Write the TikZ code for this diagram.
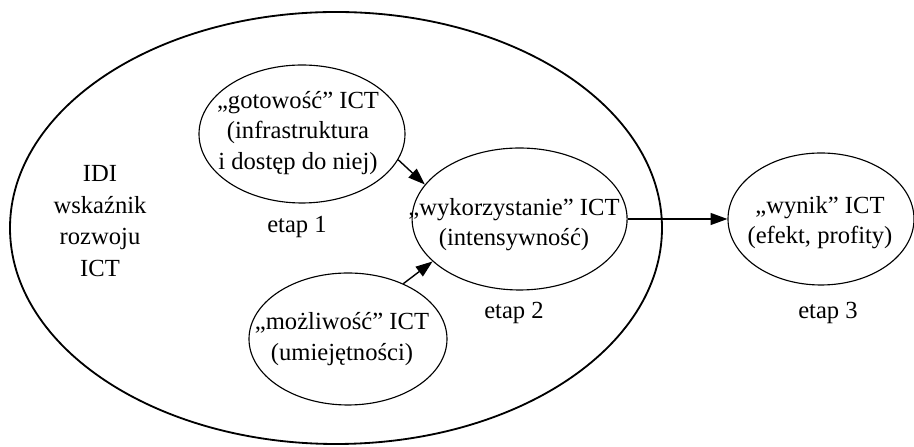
\documentclass[tikz,border=0pt]{standalone}
\usepackage{fontspec}
\setmainfont{Liberation Serif}
\usepackage{tikz}
\usetikzlibrary{arrows.meta,shapes.geometric,positioning}

\begin{document}
\begin{tikzpicture}[
    stage/.style={draw,ellipse,inner sep=0pt,line width=0.8pt},
    txt/.style={align=center,font=\fontsize{17.5}{21.5}\selectfont},
    flow/.style={-{Triangle[length=12pt,width=8.5pt]},line width=1pt}]
  \useasboundingbox (0,0) rectangle (22.85,11.175);
  \node[draw,ellipse,inner sep=0pt,line width=1.3pt,minimum width=16.3cm,minimum height=10.8cm] (idi) at (8.4,5.475) {};
  \node[stage,minimum width=5.15cm,minimum height=3.45cm] (ready) at (7.55,7.825) {};
  \node[stage,minimum width=5.375cm,minimum height=3.55cm] (use) at (12.99,5.7) {};
  \node[stage,minimum width=4.95cm,minimum height=3.3cm] (skill) at (8.7,2.7) {};
  \node[stage,minimum width=4.65cm,minimum height=3.3cm] (result) at (20.525,5.7) {};
  \node[txt,font=\fontsize{17.5}{22.5}\selectfont] (idilabel) at (2.5,5.65) {IDI\\wskaźnik\\rozwoju\\ICT};
  \node[txt] (readylabel) at (7.45,7.85) {„gotowość” ICT\\(infrastruktura\\i dostęp do niej)};
  \node[txt] (uselabel) at (12.85,5.55) {„wykorzystanie” ICT\\(intensywność)};
  \node[txt] (skilllabel) at (8.55,2.7) {„możliwość” ICT\\(umiejętności)};
  \node[txt] (resultlabel) at (20.5,5.6) {„wynik” ICT\\(efekt, profity)};
  \node[txt] (step1) at (7.425,5.5) {etap 1};
  \node[txt] (step2) at (12.85,3.35) {etap 2};
  \node[txt] (step3) at (20.7,3.35) {etap 3};
  \draw[flow] (ready.-15) -- (use.160);
  \draw[flow] (skill.45) -- (use.206);
  \draw[flow] (use.east) -- (result.west);
\end{tikzpicture}
\end{document}
